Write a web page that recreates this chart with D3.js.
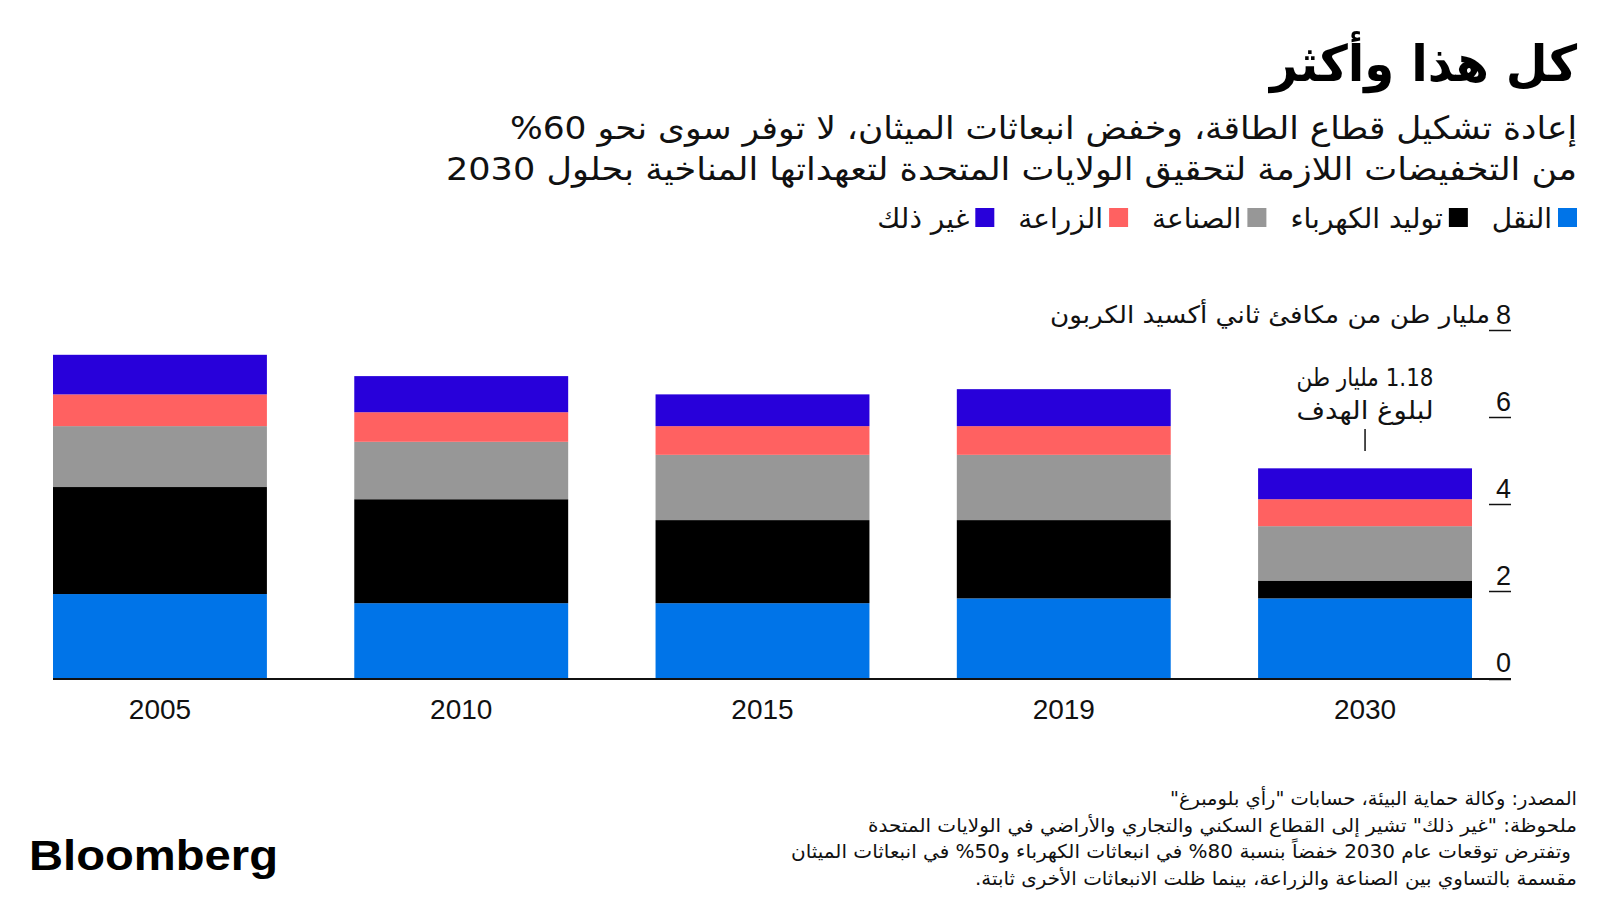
<!DOCTYPE html>
<html><head><meta charset="utf-8">
<script src="https://cdn.jsdelivr.net/npm/d3@7"></script>
<style>
html,body{margin:0;padding:0;background:#fff;}
svg{display:block;}
.ar{font-family:"DejaVu Sans",sans-serif;direction:rtl;unicode-bidi:embed;}
.num{font-family:"Liberation Sans",Arial,sans-serif;}
</style></head>
<body>
<svg id="chart" width="1600" height="900"></svg>
<script>
// ---- data ----
const years = ["2005", "2010", "2015", "2019", "2030"];
const transport   = [1.93, 1.72, 1.72, 1.83, 1.83];
const power       = [2.46, 2.39, 1.91, 1.80, 0.41];
const industry    = [1.40, 1.32, 1.50, 1.50, 1.25];
const agriculture = [0.73, 0.68, 0.66, 0.66, 0.62];
const other       = [0.91, 0.83, 0.73, 0.85, 0.71];
const seriesKeys  = ["transport", "power", "industry", "agriculture", "other"];
const seriesNames = ["النقل", "توليد الكهرباء", "الصناعة", "الزراعة", "غير ذلك"];
const yTicks = [0, 2, 4, 6, 8];

const title = "كل هذا وأكثر";
const subtitle = ["إعادة تشكيل قطاع الطاقة، وخفض انبعاثات الميثان، لا توفر سوى نحو 60%",
                  "من التخفيضات اللازمة لتحقيق الولايات المتحدة لتعهداتها المناخية بحلول 2030"];
const unitLabel = "مليار طن من مكافئ ثاني أكسيد الكربون";
const annotation = ["1.18 مليار طن", "لبلوغ الهدف"];
const footer = ["المصدر: وكالة حماية البيئة، حسابات \"رأي بلومبرغ\"",
                "ملحوظة: \"غير ذلك\" تشير إلى القطاع السكني والتجاري والأراضي في الولايات المتحدة",
                "وتفترض توقعات عام 2030 خفضاً بنسبة 80% في انبعاثات الكهرباء و50% في انبعاثات الميثان",
                "مقسمة بالتساوي بين الصناعة والزراعة، بينما ظلت الانبعاثات الأخرى ثابتة."];

// ---- styles ----
const colors = ["#0074E8", "#000000", "#979797", "#FF6161", "#2800DA"];

const table = years.map((y, i) => ({year: y, transport: transport[i], power: power[i],
  industry: industry[i], agriculture: agriculture[i], other: other[i]}));
const stacked = d3.stack().keys(seriesKeys)(table);

const svg = d3.select("#chart");
const RIGHT = 1577;

const x = d3.scaleBand().domain(years).range([53, 1472]).paddingInner(0.29).paddingOuter(0);
const y = d3.scaleLinear().domain([0, 8]).range([678, 330]);

function fit(sel, w) { sel.attr("textLength", w).attr("lengthAdjust", "spacingAndGlyphs"); return sel; }

// title
fit(svg.append("text").attr("class", "ar").attr("x", RIGHT).attr("y", 81)
  .attr("text-anchor", "start").attr("font-size", 50).attr("font-weight", "bold")
  .attr("fill", "#000").text(title), 307);

// subtitle
const subW = [1067, 1131];
subtitle.forEach((s, i) => {
  fit(svg.append("text").attr("class", "ar").attr("x", RIGHT).attr("y", 139 + i * 41)
    .attr("text-anchor", "start").attr("font-size", 32).attr("fill", "#111").text(s), subW[i]);
});

// legend
let lx = RIGHT;
seriesNames.forEach((n, i) => {
  svg.append("rect").attr("x", lx - 19).attr("y", 208).attr("width", 19).attr("height", 19)
    .attr("fill", colors[i]);
  const t = svg.append("text").attr("class", "ar").attr("x", lx - 25).attr("y", 228)
    .attr("text-anchor", "start").attr("font-size", 28).attr("fill", "#111").text(n);
  const w = t.node().getComputedTextLength();
  lx = lx - 25 - w - 24;
});

// bars
const layers = svg.append("g").selectAll("g").data(stacked).join("g")
  .attr("fill", (d, i) => colors[i]);
layers.selectAll("rect").data(d => d).join("rect")
  .attr("x", d => x(d.data.year))
  .attr("width", x.bandwidth())
  .attr("y", d => y(d[1]))
  .attr("height", d => y(d[0]) - y(d[1]));

// baseline
svg.append("line").attr("x1", 53).attr("x2", 1511).attr("y1", y(0) + 1).attr("y2", y(0) + 1)
  .attr("stroke", "#111").attr("stroke-width", 2);

// y axis (right)
const yAxisG = svg.append("g").attr("transform", "translate(1511,0)");
const yAxis = d3.axisLeft(y).tickValues(yTicks).tickSize(22).tickPadding(0).tickFormat(d3.format("d"));
yAxisG.call(yAxis);
yAxisG.select(".domain").remove();
yAxisG.selectAll(".tick line").attr("stroke", "#111").attr("stroke-width", 1.5)
  .attr("transform", d => d === 0 ? "translate(0,1)" : null);
yAxisG.selectAll(".tick text").attr("class", "num").attr("x", 0).attr("dy", null).attr("y", -7)
  .attr("text-anchor", "end").attr("font-size", 27).attr("fill", "#111");

// unit label next to 8
const eightW = yAxisG.selectAll(".tick text").filter(d => d === 8).node().getComputedTextLength();
fit(svg.append("text").attr("class", "ar").attr("x", 1511 - eightW - 6).attr("y", y(8) - 7)
  .attr("text-anchor", "start").attr("font-size", 24).attr("fill", "#111").text(unitLabel), 440);

// x labels
const xAxisG = svg.append("g").attr("transform", `translate(0,${y(0)})`)
  .call(d3.axisBottom(x).tickSize(0).tickPadding(0));
xAxisG.select(".domain").remove();
xAxisG.selectAll(".tick text").attr("class", "num").attr("dy", null).attr("y", 41)
  .attr("font-size", 28).attr("fill", "#111");

// annotation
const ax = x("2030") + x.bandwidth() / 2;
annotation.forEach((s, i) => {
  fit(svg.append("text").attr("class", "ar").attr("x", ax).attr("y", 386 + i * 33)
    .attr("text-anchor", "middle").attr("font-size", 25).attr("fill", "#111").text(s), 137);
});
svg.append("line").attr("x1", ax).attr("x2", ax).attr("y1", 429).attr("y2", 451)
  .attr("stroke", "#111").attr("stroke-width", 1.5);

// footer
const footW = [407, 709, 780, 602];
footer.forEach((s, i) => {
  fit(svg.append("text").attr("class", "ar").attr("x", i === 2 ? RIGHT - 6 : RIGHT).attr("y", 805 + i * 26.5)
    .attr("text-anchor", "start").attr("font-size", 19).attr("fill", "#111").text(s), footW[i]);
});

// logo
fit(svg.append("text").attr("x", 29).attr("y", 870).attr("font-family", "Liberation Sans, Arial, sans-serif")
  .attr("font-weight", "bold").attr("font-size", 43).attr("fill", "#000").text("Bloomberg"), 249);
</script>
</body></html>
